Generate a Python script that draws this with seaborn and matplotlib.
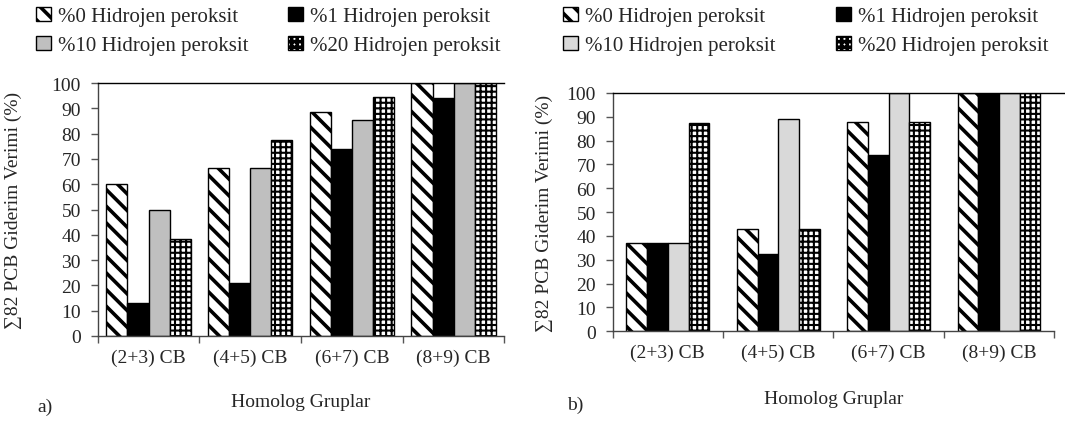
import numpy as np
import pandas as pd
import matplotlib
matplotlib.use("Agg")
import matplotlib.pyplot as plt
import seaborn as sns
from matplotlib.ticker import FixedLocator, NullFormatter

categories = ["(2+3) CB", "(4+5) CB", "(6+7) CB", "(8+9) CB"]
series = ["%0 Hidrojen peroksit", "%1 Hidrojen peroksit",
          "%10 Hidrojen peroksit", "%20 Hidrojen peroksit"]

# panel a)
a_h0 = [60, 66.5, 88.5, 100]
a_h1 = [13, 21, 74, 94]
a_h10 = [50, 66.5, 85.5, 100]
a_h20 = [38.5, 77.5, 94.5, 100]

# panel b)
b_h0 = [37, 43, 88, 100]
b_h1 = [37, 32.5, 74, 100]
b_h10 = [37, 89, 100, 100]
b_h20 = [87.5, 43, 88, 100]

yticks = list(range(0, 101, 10))

sns.set_theme(style="white")
plt.rcParams['font.family'] = ['Liberation Serif', 'DejaVu Serif']
plt.rcParams['hatch.linewidth'] = 2.6

def long_df(vals):
    rows = []
    for s, v in zip(series, vals):
        for c, y in zip(categories, v):
            rows.append({"cat": c, "series": s, "val": y})
    return pd.DataFrame(rows)

fig = plt.figure(figsize=(10.65, 4.27), dpi=100)
axA = fig.add_axes([0.0917, 0.211, 0.382, 0.592])
axB = fig.add_axes([0.5753, 0.222, 0.4145, 0.558])

styles_a = [dict(fc="white", hatch="\\\\"), dict(fc="black", hatch=None),
            dict(fc="#bfbfbf", hatch=None), dict(fc="white", hatch="+++")]
styles_b = [dict(fc="white", hatch="\\\\"), dict(fc="black", hatch=None),
            dict(fc="#d9d9d9", hatch=None), dict(fc="white", hatch="+++")]

FS = 14

def draw(ax, vals, styles, width):
    df = long_df(vals)
    sns.barplot(data=df, x="cat", y="val", hue="series", order=categories,
                hue_order=series, ax=ax, width=width, legend=False,
                errorbar=None, saturation=1)
    for cont, st in zip(ax.containers, styles):
        for p in cont.patches:
            p.set_facecolor(st["fc"])
            p.set_edgecolor("black")
            p.set_linewidth(1.0)
            if st["hatch"]:
                p.set_hatch(st["hatch"])
                if st["hatch"].startswith("+") and hasattr(p, "set_hatch_linewidth"):
                    p.set_hatch_linewidth(1.5)
    ax.set_ylim(0, 100)
    ax.set_xlim(-0.5, 3.5)
    ax.set_yticks(yticks)
    ax.set_yticklabels([str(t) for t in yticks], fontsize=FS)
    ax.set_xticks(range(4))
    ax.set_xticklabels(categories, fontsize=FS)
    ax.xaxis.set_minor_locator(FixedLocator([-0.5, 0.5, 1.5, 2.5, 3.5]))
    ax.xaxis.set_minor_formatter(NullFormatter())
    ax.tick_params(axis="x", which="major", length=0, pad=9)
    ax.tick_params(axis="x", which="minor", length=5, width=1, color="#555555", direction="out", bottom=True)
    ax.tick_params(axis="y", length=5, width=1, color="#555555", direction="out", left=True, pad=7)
    for s in ["left", "bottom", "top"]:
        ax.spines[s].set_visible(True)
        ax.spines[s].set_color("#444444" if s != "top" else "black")
        ax.spines[s].set_linewidth(1.0)
    ax.spines["right"].set_visible(False)
    ax.grid(False)
    ax.set_ylabel("∑82 PCB Giderim Verimi (%)", fontsize=FS)
    ax.set_xlabel("Homolog Gruplar", fontsize=FS)
    return ax

draw(axA, [a_h0, a_h1, a_h10, a_h20], styles_a, 0.83)
draw(axB, [b_h0, b_h1, b_h10, b_h20], styles_b, 0.75)

axA.yaxis.set_label_coords(-0.185, 0.5)
axB.yaxis.set_label_coords(-0.135, 0.5)
axA.xaxis.set_label_coords(0.5, -0.225)
axB.xaxis.set_label_coords(0.5, -0.245)
axB.spines["top"].set_bounds(-0.5, 3.6)

for ax, anchor, cs, fs in [(axA, (0.034, 0.982), 1.9, 15), (axB, (0.529, 0.982), 2.9, 15)]:
    handles = [c.patches[0] for c in ax.containers]
    order = [0, 2, 1, 3]
    fig.legend([handles[i] for i in order], [series[i] for i in order],
               loc="upper left", bbox_to_anchor=anchor,
               ncol=2, frameon=False, fontsize=fs, handlelength=0.7,
               handleheight=0.7, handletextpad=0.35, columnspacing=cs,
               labelspacing=0.45, borderaxespad=0, borderpad=0.0)

fig.text(0.035, 0.035, "a)", fontsize=FS)
fig.text(0.532, 0.04, "b)", fontsize=FS)

fig.savefig("out.png", dpi=100)
